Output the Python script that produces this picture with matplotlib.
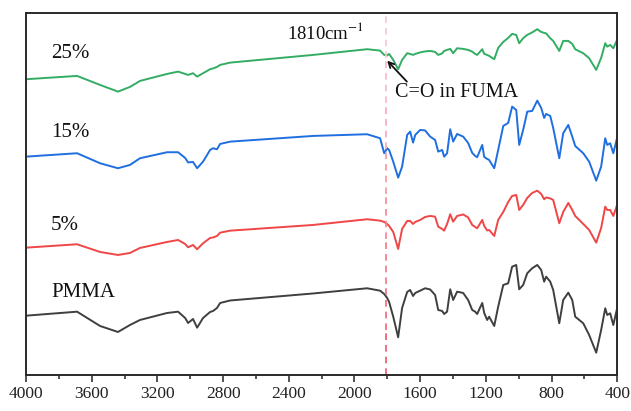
import numpy as np
import matplotlib
matplotlib.use("Agg")
import matplotlib.pyplot as plt
from matplotlib.ticker import MultipleLocator

plt.rcParams['font.family'] = ['Liberation Serif', 'DejaVu Serif']
plt.rcParams['mathtext.fontset'] = 'stix'

# wavenumber grid (cm-1) shared by all spectra
wavenumber = [4000, 3689, 3549, 3440, 3367, 3306, 3141, 3074, 3031, 3013, 2983, 2958,
              2922, 2879, 2861, 2837, 2818, 2757, 2252, 1923, 1844, 1819, 1801, 1789,
              1764, 1734, 1710, 1679, 1661, 1643, 1630, 1600, 1570, 1539, 1509, 1490,
              1466, 1454, 1436, 1417, 1399, 1375, 1338, 1308, 1283, 1265, 1253, 1222,
              1210, 1192, 1180, 1149, 1125, 1094, 1064, 1040, 1015, 997, 973, 948,
              918, 887, 863, 845, 833, 808, 790, 753, 729, 698, 674, 656, 607, 571,
              528, 498, 473, 461, 443, 424, 403]

# stacked transmittance (a.u., with offsets)
pmma = [59.3, 63.3, 49, 43, 50, 55, 62, 63.3, 57, 52, 56, 47.3,
        57, 63, 64, 67, 72, 74.5, 81.5, 86.7, 84.3, 81, 77, 73,
        58.3, 37.7, 67, 83, 85, 79, 82, 84.3, 86.7, 85.5, 80, 65,
        64, 61, 63.3, 85.7, 75, 83.3, 82, 75, 65, 63.3, 61, 72,
        62, 55, 58.3, 49, 68.3, 90, 91.7, 108.3, 110, 85.7, 90, 101.7,
        106.7, 110, 105, 93.3, 98.3, 93.3, 85, 51.7, 75, 82.3, 75, 58.3, 51.7, 40,
        22.3, 45, 66.7, 60, 61.7, 50, 65]
fuma5 = [127.3, 130.7, 123, 120, 122, 127, 133, 135, 131, 127.7, 130, 125.7,
         131.7, 137, 137.5, 139, 142.3, 144.3, 150, 155.7, 154.3, 153, 151, 149,
         143, 126, 146, 154, 154, 151, 153, 155, 158, 159, 158.3, 148.3,
         146, 144.3, 151, 160.7, 153.3, 159, 160.5, 157.5, 150, 148, 146.7, 155,
         149, 144.5, 145, 139, 155, 163, 173, 179, 180, 165, 170, 177,
         182, 184.3, 181, 175.7, 177.5, 176.5, 175, 151.7, 163, 172, 165, 159, 151, 145,
         132.3, 147, 168.3, 165, 165, 159, 169]
fuma15 = [218.3, 221.7, 211.7, 206.7, 210, 216.7, 222.7, 222.7, 217, 212.5, 213, 206.7,
          213.3, 225, 226.7, 225.7, 231, 233.3, 239, 240.7, 236.7, 221.7, 226.7, 225,
          213.3, 197.3, 208.3, 240, 243.3, 232.3, 240, 245, 244.5, 238.3, 235, 223.3,
          225, 218.3, 221.7, 245.7, 233.3, 241, 238.3, 232, 222, 219, 217.7, 230,
          218, 216, 215, 206.7, 225, 249, 252, 268.3, 265, 230, 245, 263.3,
          264, 274.3, 267, 257, 261, 259, 247, 216.7, 241.7, 250, 238.3, 229, 221.7, 213.3,
          194.3, 208.3, 236.7, 230, 231.7, 221.7, 235.7]
fuma25 = [295.7, 299, 290, 283.3, 288, 294, 301, 303.3, 301, 300, 301.7, 298.3,
          301.7, 305.7, 306.5, 308, 310, 312.3, 320, 325.7, 324.3, 320, 319.5, 321,
          315, 305.7, 315, 321.7, 321, 320, 321, 322.5, 323.5, 324, 323, 320,
          321.5, 324, 325, 326, 321.7, 326.7, 326, 325, 323.3, 321, 320, 325.7,
          321, 320, 319, 315.7, 327, 333, 337, 341, 340, 331.7, 336.7, 340,
          342.5, 345.7, 343, 342, 341.5, 336.7, 334, 324, 334, 334, 331, 325.7, 321.7, 316.7,
          305, 317, 331.7, 328.3, 330, 326.7, 334.3]

series = [pmma, fuma5, fuma15, fuma25]
labels = ["PMMA", "5%", "15%", "25%"]
colors = ["#3f3f3f", "#f04646", "#1f6fe0", "#33ad63"]
label_y = [82.3, 149, 242, 321]

tick_values = [4000, 3600, 3200, 2800, 2400, 2000, 1600, 1200, 800, 400]
marker_wn = 1810

fig = plt.figure(figsize=(6.31, 4.11), dpi=100)
ax = fig.add_axes([0.0412, 0.0876, 0.937, 0.881])

for vals, col in zip(series, colors):
    ax.plot(wavenumber, vals, color=col, lw=1.4, solid_joinstyle='round')

for lab, y in zip(labels, label_y):
    ax.text(3848, y, lab, fontsize=15, ha='left', va='center', color='#111111')

# dashed marker line with pink-to-red gradient
pink = np.array([0.98, 0.78, 0.82])
red = np.array([0.94, 0.33, 0.42])
nseg = 8
for i in range(nseg):
    f = i / (nseg - 1)
    c = red * (1 - f) + pink * f
    ax.axvline(marker_wn, ymin=i / nseg, ymax=(i + 1) / nseg, color=c,
               lw=1.2, ls=(0, (4, 3)))

ax.text(2410, 342, "1810cm$^{-1}$", fontsize=13.5, ha='left', va='center', color='#111111')
ax.text(1752, 282.3, "C=O in FUMA", fontsize=14.5, ha='left', va='center', color='#111111')
ax.annotate("", xy=(1801, 314.3), xytext=(1681, 293.3),
            arrowprops=dict(arrowstyle='->', lw=1.3, color='#111111',
                            shrinkA=0, shrinkB=0))

ax.set_xlim(4000, 400)
ax.set_ylim(0, 362)
ax.set_xticks(tick_values)
ax.set_xticklabels([str(t) for t in tick_values])
ax.xaxis.set_minor_locator(MultipleLocator(200))
ax.set_yticks([])
ax.tick_params(axis='x', which='major', direction='out', length=5, width=1.1,
               labelsize=12.5, pad=3, colors='#222222')
ax.tick_params(axis='x', which='minor', direction='out', length=3, width=1.1,
               colors='#222222')
for s in ax.spines.values():
    s.set_linewidth(1.4)
    s.set_color('#2a2a2a')

fig.savefig("out.png", dpi=100)
